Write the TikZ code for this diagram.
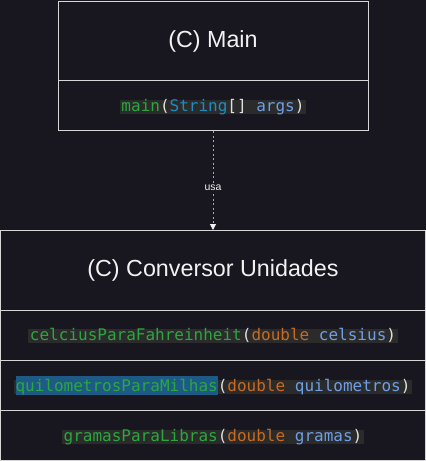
\documentclass[tikz,border=0pt]{standalone}
\usepackage{fontspec}
\setmainfont{Liberation Sans}
\newfontfamily\codefont{DejaVu Sans Mono}
\usetikzlibrary{arrows.meta}
\definecolor{bgc}{HTML}{18161F}
\definecolor{linec}{HTML}{D6D6D6}
\definecolor{codebg}{HTML}{2B2B2B}
\definecolor{cgreen}{HTML}{2AA83E}
\definecolor{cstr}{HTML}{1E8CC0}
\definecolor{cparam}{HTML}{6E9FE6}
\definecolor{corange}{HTML}{C96A1E}
\definecolor{cparen}{HTML}{E0E0E0}
\definecolor{hlblue}{HTML}{1E5A86}
\definecolor{titlec}{HTML}{F2F2F2}
\definecolor{arrowc}{HTML}{A8A8A8}
\newcommand{\fn}[1]{\textcolor{cgreen}{#1}}
\newcommand{\pr}[1]{\textcolor{cparen}{#1}}
\newcommand{\ty}[1]{\textcolor{corange}{#1}}
\newcommand{\st}[1]{\textcolor{cstr}{#1}}
\newcommand{\pa}[1]{\textcolor{cparam}{#1}}
\newcommand{\hlq}[1]{{\setlength{\fboxsep}{0pt}\colorbox{hlblue}{\rule[-4pt]{0pt}{19pt}#1}}}
\begin{document}
\begin{tikzpicture}[x=1pt,y=-1pt,
  comp/.style={draw=linec, line width=1pt, inner sep=0pt, fill=bgc},
  title/.style={text=titlec, font=\fontsize{23.3}{27}\selectfont, inner sep=0pt},
  code/.style={fill=codebg, inner xsep=1.5pt, inner ysep=0pt, text height=11pt, text depth=3pt, font=\codefont\fontsize{16}{19}\selectfont},
  usage/.style={draw=arrowc, line width=1pt, dash pattern=on 2pt off 2.5pt, -{Triangle[width=6pt,length=6pt,fill=titlec,color=titlec]}},
  lbl/.style={fill=bgc, text=titlec, font=\fontsize{10.5}{12}\selectfont, inner xsep=0.5pt, inner ysep=1.5pt}]
\fill[bgc] (0,0) rectangle (426,461);
\useasboundingbox (0,0) rectangle (426,461);
% Main class
\node[comp, minimum width=310pt, minimum height=79.5pt] (mhead) at (213,40.75) {};
\node[comp, minimum width=310pt, minimum height=50pt] (mbody) at (213,105.5) {};
\node[title] (mtitle) at (213,41.5) {(C) Main};
\node[code] (mcode) at (213,107) {\fn{main}\pr{(}\st{String}\pr{[]} \pa{args}\pr{)}};
% Conversor class
\node[comp, minimum width=425pt, minimum height=80pt] (chead) at (213,270.5) {};
\node[comp, minimum width=425pt, minimum height=50pt] (c1) at (213,335.5) {};
\node[comp, minimum width=425pt, minimum height=50pt] (c2) at (213,385.5) {};
\node[comp, minimum width=425pt, minimum height=50pt] (c3) at (213,435.5) {};
\node[title] (ctitle) at (213,270.5) {(C) Conversor Unidades};
\node[code] (k1) at (213,336) {\fn{celciusParaFahreinheit}\pr{(}\ty{double} \pa{celsius}\pr{)}};
\node[code] (k2) at (213,387) {\hlq{\fn{quilometrosParaMilhas}}\pr{(}\ty{double} \pa{quilometros}\pr{)}};
\node[code] (k3) at (213,437) {\fn{gramasParaLibras}\pr{(}\ty{double} \pa{gramas}\pr{)}};
% dependency
\draw[usage] (mbody.south) -- (chead.north) node[lbl, pos=0.57] (usa) {usa};
\end{tikzpicture}
\end{document}
